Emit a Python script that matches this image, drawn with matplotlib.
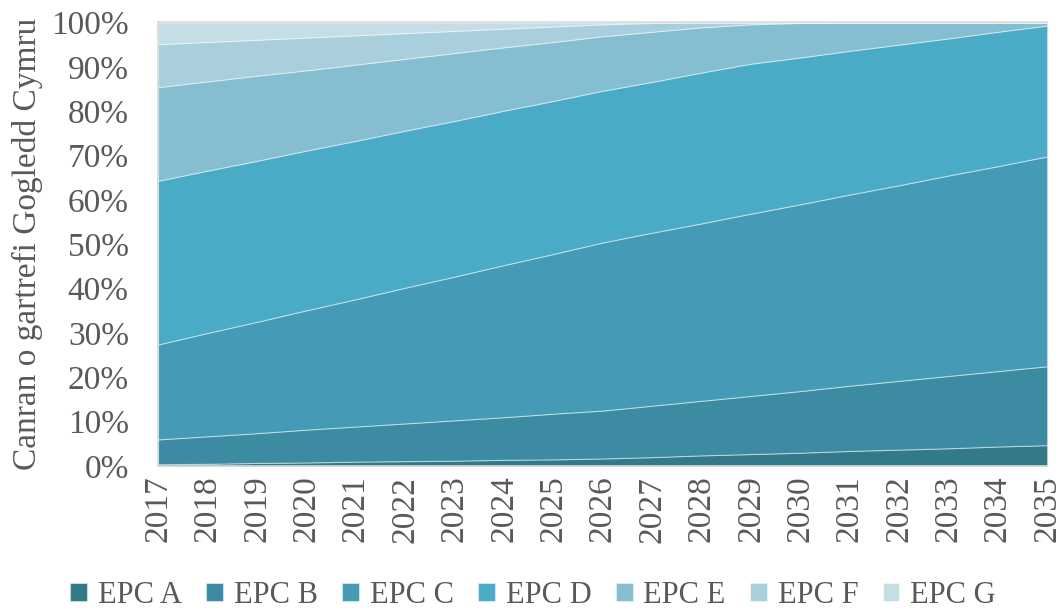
import numpy as np
import matplotlib.pyplot as plt

# Rhagamcan EPC - canran y cartrefi ym mhob band
years = list(range(2017, 2036))

epc_a = [0.4, 0.5, 0.7, 0.8, 1.0, 1.1, 1.2, 1.4, 1.5, 1.7, 2.0, 2.4, 2.7, 3.0, 3.4, 3.7, 4.0, 4.4, 4.7]
epc_b = [5.6, 6.2, 6.7, 7.4, 7.9, 8.5, 9.1, 9.6, 10.3, 10.8, 11.6, 12.3, 13.1, 13.9, 14.7, 15.5, 16.3, 17.0, 17.8]
epc_c = [21.4, 23.3, 25.1, 26.9, 28.7, 30.6, 32.4, 34.3, 36.0, 37.9, 39.0, 40.0, 41.1, 42.1, 43.1, 44.1, 45.2, 46.2, 47.3]
epc_d = [36.9, 36.6, 36.3, 36.0, 35.7, 35.4, 35.1, 34.8, 34.5, 34.2, 34.0, 34.0, 33.8, 33.1, 32.4, 31.7, 30.9, 30.3, 29.5]
epc_e = [21.1, 20.1, 19.2, 18.1, 17.2, 16.2, 15.3, 14.3, 13.3, 12.3, 11.3, 10.2, 8.9, 7.8, 6.4, 5.0, 3.6, 2.1, 0.7]
epc_f = [9.7, 8.9, 8.1, 7.4, 6.6, 5.8, 5.0, 4.2, 3.5, 2.7, 2.0, 1.1, 0.4, 0.1, 0, 0, 0, 0, 0]
epc_g = [4.9, 4.4, 3.9, 3.4, 2.9, 2.4, 1.9, 1.4, 0.9, 0.4, 0.1, 0, 0, 0, 0, 0, 0, 0, 0]

labels = ['EPC A', 'EPC B', 'EPC C', 'EPC D', 'EPC E', 'EPC F', 'EPC G']
colors = ['#327A8A', '#3D8BA3', '#459BB5', '#4AABC6', '#84BED0', '#AACFDC', '#C5DEE6']

plt.rcParams['font.family'] = ['Liberation Serif', 'DejaVu Serif']
txt = '#595959'

fig = plt.figure(figsize=(10.62, 6.14), dpi=100)
ax = fig.add_axes([0.1488, 0.241, 0.8372, 0.7224])

data = np.array([epc_a, epc_b, epc_c, epc_d, epc_e, epc_f, epc_g])
polys = ax.stackplot(years, data, labels=labels, colors=colors,
                     edgecolor=(1, 1, 1, 0.45), linewidth=0.8)

ax.set_xlim(2017, 2035)
ax.set_ylim(0, 100)
ax.set_yticks(range(0, 101, 10))
ax.set_yticklabels([f'{v}%' for v in range(0, 101, 10)])
ax.set_xticks(years)
ax.set_xticklabels([str(y) for y in years], rotation=90)
ax.tick_params(axis='y', length=0, pad=21, labelsize=24, labelcolor=txt)
ax.tick_params(axis='x', length=0, pad=7, labelsize=24, labelcolor=txt)

for s in ['top', 'left', 'bottom']:
    ax.spines[s].set_color('#D9D9D9')
    ax.spines[s].set_linewidth(1.2)
ax.spines['right'].set_visible(False)

ax.set_ylabel('Canran o gartrefi Gogledd Cymru', fontsize=24, color=txt, labelpad=6)

leg = fig.legend(handles=polys, labels=labels, loc='center', bbox_to_anchor=(0.502, 0.03),
                 ncol=7, frameon=False, fontsize=22, handlelength=0.55, handleheight=0.55,
                 handletextpad=0.35, columnspacing=0.8, borderpad=0.1)
for t in leg.get_texts():
    t.set_color(txt)

fig.savefig('out.png', dpi=100)
